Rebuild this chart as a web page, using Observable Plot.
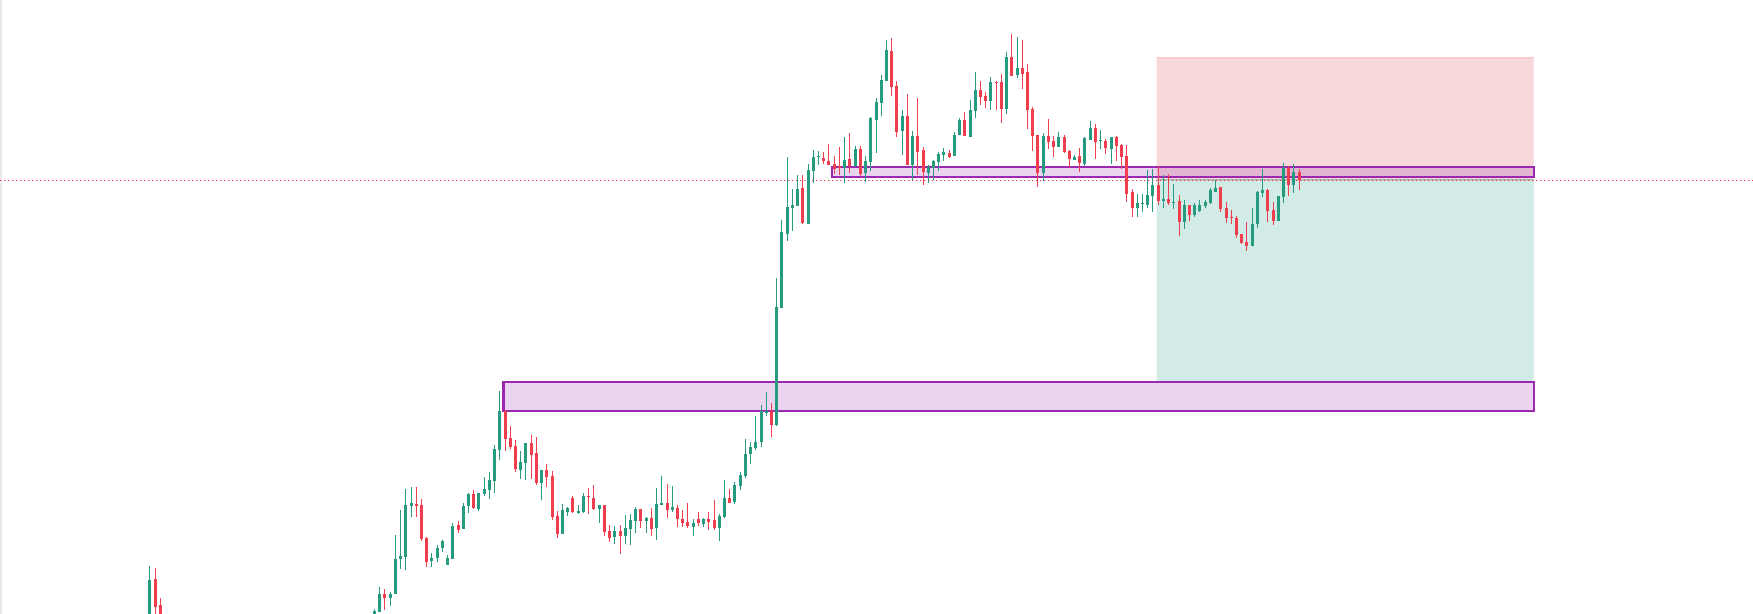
<!DOCTYPE html>
<html>
<head>
<meta charset="utf-8">
<script src="https://cdn.jsdelivr.net/npm/d3@7"></script>
<script src="https://cdn.jsdelivr.net/npm/@observablehq/plot@0.6"></script>
<style>
html,body{margin:0;padding:0;background:#fff;overflow:hidden;}
#chart{position:relative;width:1753px;height:614px;}
#edge{position:absolute;left:0;top:0;width:2px;height:614px;background:#e8e8e8;}
</style>
</head>
<body>
<div id="chart"><div id="edge"></div></div>
<script>
// bar index (time order); bars 3..42 lie below the visible price range
const bar = [0,1,2,
43,44,45,46,47,48,49,50,51,52,
53,54,55,56,57,58,59,60,61,62,
63,64,65,66,67,68,69,70,71,72,
73,74,75,76,77,78,79,80,81,82,
83,84,85,86,87,88,89,90,91,92,
93,94,95,96,97,98,99,100,101,102,
103,104,105,106,107,108,109,110,111,112,
113,114,115,116,117,118,119,120,121,122,
123,124,125,126,127,128,129,130,131,132,
133,134,135,136,137,138,139,140,141,142,
143,144,145,146,147,148,149,150,151,152,
153,154,155,156,157,158,159,160,161,162,
163,164,165,166,167,168,169,170,171,172,
173,174,175,176,177,178,179,180,181,182,
183,184,185,186,187,188,189,190,191,192,
193,194,195,196,197,198,199,200,201,202,
203,204,205,206,207,208,209,210,211,212,
213,214,215,216,217,218,219,220];

const open = [360,421,395,
382,388,406,402,406,441,443,494,496,495,
462,439,442,452,435,441,475,471,494,506,
491,506,510,519,550,589,562,554,530,537,
557,547,517,530,524,484,466,488,502,487,
488,504,502,491,495,469,463,469,464,471,
479,491,479,482,472,495,497,490,492,481,
478,473,481,476,481,480,472,483,502,498,
514,524,546,552,558,587,589,575,692,766,
792,794,812,776,829,843,842,839,836,834,
832,841,834,851,827,838,880,897,919,949,
914,869,884,835,864,850,827,832,838,845,
847,844,865,880,863,889,910,904,899,918,
918,891,943,925,932,928,891,865,827,864,
859,853,863,849,840,844,836,860,872,859,
859,851,863,855,844,808,792,796,795,804,
815,799,801,797,799,778,795,785,789,794,
797,808,813,792,783,782,766,758,754,776,
807,810,790,779,803,832,815,828];

const high = [434,432,402,
391,413,411,408,465,490,511,513,513,501,
463,447,455,460,445,477,479,497,507,510,
507,523,528,555,609,590,574,560,549,557,
565,563,530,536,529,489,496,493,504,495,
507,512,515,495,495,475,474,475,485,486,
493,491,483,492,512,524,516,514,495,490,
497,481,488,482,488,500,486,520,511,518,
528,561,558,584,595,608,597,722,780,843,
811,825,825,836,850,849,848,856,844,853,
863,867,854,854,844,883,902,925,960,962,
919,890,906,869,902,853,835,840,848,852,
850,868,882,888,900,928,919,908,923,919,
926,948,966,963,960,936,893,865,867,881,
864,868,865,850,845,852,863,879,876,870,
861,863,864,856,855,811,806,806,830,831,
834,825,826,816,805,800,795,797,800,800,
812,820,813,798,790,784,766,778,792,809,
831,811,798,804,837,834,836,831];

const low = [350,375,360,
378,388,390,394,406,431,430,483,483,459,
433,433,438,448,435,441,467,471,487,491,
489,504,501,507,540,549,551,528,521,520,
521,515,500,513,480,462,466,484,487,486,
487,486,490,477,464,458,456,446,456,455,
467,472,467,464,460,495,482,488,473,473,
472,464,474,473,470,470,459,482,497,496,
510,522,536,550,553,584,563,574,692,759,
769,794,776,776,817,835,836,835,826,825,
817,827,833,824,818,829,847,884,919,904,
863,845,835,820,825,815,817,820,829,839,
842,844,865,864,863,882,895,892,890,890,
877,886,924,922,911,871,849,813,819,851,
843,853,847,832,840,828,834,860,841,851,
846,836,839,831,798,783,783,788,792,788,
795,792,795,791,764,771,779,783,788,792,
796,808,788,777,776,762,756,749,754,772,
803,778,775,779,797,804,807,810];

const close = [420,393,370,
389,406,402,406,441,444,495,497,494,461,
438,442,452,459,442,474,470,494,506,492,
507,511,520,551,589,561,553,531,538,557,
545,517,530,523,483,466,490,492,488,489,
504,503,491,495,468,462,469,464,472,480,
491,479,482,471,496,497,490,493,481,477,
474,477,477,481,478,472,484,502,497,515,
525,546,553,558,589,589,575,693,768,793,
795,811,777,830,843,844,839,835,831,832,
840,834,851,826,839,882,898,920,950,913,
868,884,835,864,848,828,833,839,846,848,
843,865,880,864,890,910,903,899,918,917,
891,943,924,932,926,890,864,827,864,858,
853,863,848,841,843,837,862,872,858,860,
852,863,854,843,806,792,797,797,805,815,
799,801,797,798,778,795,785,795,795,798,
810,812,791,782,782,765,757,754,776,808,
810,789,779,804,832,815,828,820];

// supply / demand boxes (bar index span, price span)
const boxName   = ["upper zone", "lower zone"];
const boxStart  = [130.7, 67.8];
const boxEnd    = [265, 265];
const boxTop    = [832.7, 617.7];
const boxBottom = [822.7, 589.3];

// short position tool
const tradeStart = 192.8;
const tradeEnd = 265;
const stopPrice = 942.7;
const entryPrice = 820.7;
const targetPrice = 617.7;

const lastPrice = close[close.length - 1];

const UP = "#279b7f", DOWN = "#ef3f4f", PURPLE = "#9c27b0";

const candles = bar.map((b, i) => ({bar: b, open: open[i], high: high[i], low: low[i], close: close[i]}));
const boxes = boxName.map((n, i) => ({name: n, start: boxStart[i], end: boxEnd[i], top: boxTop[i], bottom: boxBottom[i]}));
const trade = [
  {part: "stop", start: tradeStart, end: tradeEnd, top: stopPrice, bottom: entryPrice},
  {part: "target", start: tradeStart, end: tradeEnd, top: entryPrice, bottom: targetPrice}
];
const col = d => d.close >= d.open ? UP : DOWN;

const chart = Plot.plot({
  width: 1753,
  height: 614,
  margin: 0,
  x: {domain: [-28.58, 306.96], axis: null},
  y: {domain: [386, 1000], axis: null},
  style: {background: "transparent"},
  marks: [
    Plot.rect(trade, {x1: "start", x2: "end", y1: "bottom", y2: "top",
      fill: d => d.part === "stop" ? "#f7d9db" : "#d2ebe6"}),
    Plot.ruleY([stopPrice], {x1: tradeStart, x2: tradeEnd, stroke: "#f23645", strokeOpacity: 0.22}),
    Plot.ruleY([entryPrice], {x1: tradeStart, x2: tradeEnd, stroke: "#9a9a9a", strokeWidth: 1}),
    Plot.rect(boxes, {x1: "start", x2: "end", y1: "bottom", y2: "top",
      fill: PURPLE, fillOpacity: 0.2, stroke: PURPLE, strokeWidth: 2.2, shapeRendering: "crispEdges"}),
    Plot.ruleY([lastPrice], {stroke: "#f23645", strokeWidth: 1, strokeDasharray: "1.3,2.7"}),
    Plot.ruleX(candles, {x: "bar", y1: "low", y2: "high", stroke: col, strokeWidth: 1, shapeRendering: "crispEdges", clip: true}),
    Plot.ruleX(candles, {x: "bar", y1: "open", y2: "close", stroke: col, strokeWidth: 3, shapeRendering: "crispEdges", clip: true})
  ]
});
chart.style.position = "absolute";
chart.style.left = "0";
chart.style.top = "0";
document.getElementById("chart").appendChild(chart);
</script>
</body>
</html>
